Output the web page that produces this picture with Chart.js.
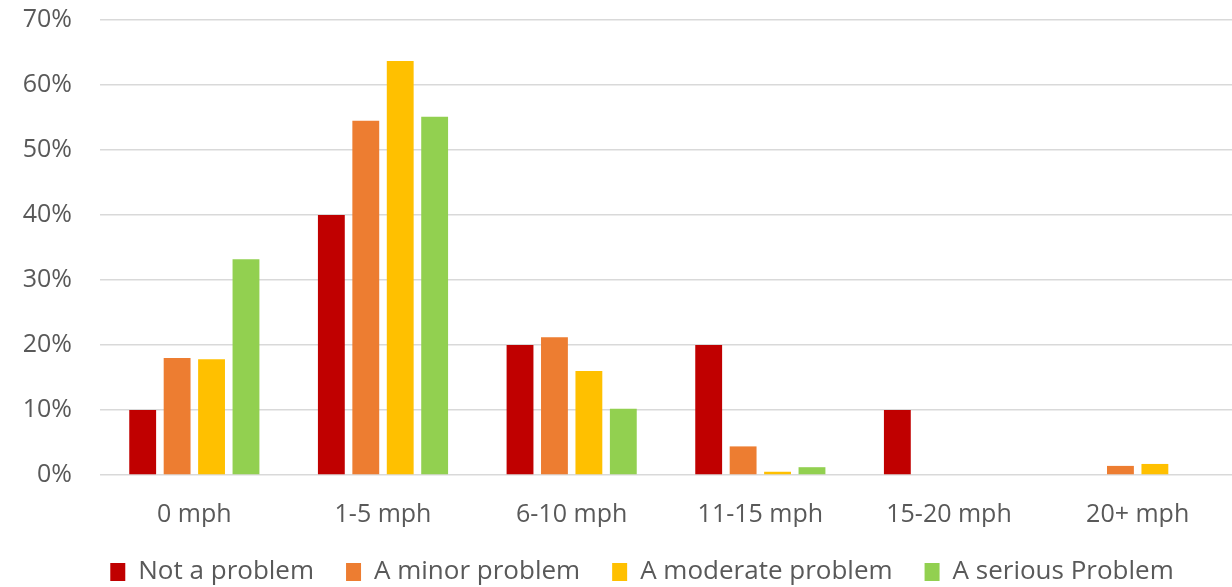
<!DOCTYPE html>
<html>
<head>
<meta charset="utf-8">
<script src="https://cdn.jsdelivr.net/npm/chart.js@4.4.0/dist/chart.umd.min.js"></script>
<style>
  html, body { margin: 0; padding: 0; background: #fff; }
  #wrap { width: 1232px; height: 587px; }
</style>
</head>
<body>
<div id="wrap"><canvas id="speedChart" width="1232" height="587"></canvas></div>
<script>
// categories and series (percent)
const speedBands = ['0 mph', '1-5 mph', '6-10 mph', '11-15 mph', '15-20 mph', '20+ mph'];
const notAProblem = [10, 40, 20, 20, 10, 0];
const minorProblem = [18.0, 54.5, 21.2, 4.4, 0, 1.4];
const moderateProblem = [17.8, 63.7, 16.0, 0.5, 0, 1.7];
const seriousProblem = [33.2, 55.1, 10.2, 1.2, 0, 0];
const yTicks = [0, 10, 20, 30, 40, 50, 60, 70];

const textColor = '#595959';
const gridColor = '#d9d9d9';
const fontFamily = '"Open Sans", "Noto Sans", sans-serif';

function series(label, data, color) {
    return { label, data, backgroundColor: color, borderWidth: 0,
             categoryPercentage: 0.73, barPercentage: 0.78 };
}

// the original legend sits a bit right of centre
const legendNudge = {
    id: 'legendNudge',
    afterLayout: chart => { chart.legend.left += 52; }
};

const ctx = document.getElementById('speedChart').getContext('2d');
new Chart(ctx, {
    type: 'bar',
    data: {
        labels: speedBands,
        datasets: [
            series('Not a problem', notAProblem, '#c00000'),
            series('A minor problem', minorProblem, '#ed7d31'),
            series('A moderate problem', moderateProblem, '#ffc000'),
            series('A serious Problem', seriousProblem, '#92d050')
        ]
    },
    plugins: [legendNudge],
    options: {
        responsive: false,
        animation: false,
        layout: { padding: { top: 0, right: 0, left: 0, bottom: -8 } },
        plugins: {
            tooltip: { enabled: false },
            legend: {
                position: 'bottom',
                labels: {
                    color: textColor,
                    font: { family: fontFamily, size: 26, lineHeight: 1 },
                    boxWidth: 15,
                    boxHeight: 18,
                    padding: 32
                }
            }
        },
        scales: {
            x: {
                grid: { display: false },
                border: { display: false },
                ticks: { color: textColor, font: { family: fontFamily, size: 25 }, padding: 17 },
                afterFit: axis => { axis.height = 52; }
            },
            y: {
                min: 0,
                max: 70,
                afterBuildTicks: axis => { axis.ticks = yTicks.map(v => ({ value: v })); },
                grid: { color: gridColor, lineWidth: 1.5, drawTicks: false },
                border: { display: false },
                ticks: {
                    color: textColor,
                    font: { family: fontFamily, size: 25 },
                    padding: 28,
                    callback: v => v + '%'
                },
                afterFit: axis => {
                    axis.width = 100;
                    axis.paddingTop = 20;
                    axis.paddingBottom = 0;
                }
            }
        }
    }
});
</script>
</body>
</html>
